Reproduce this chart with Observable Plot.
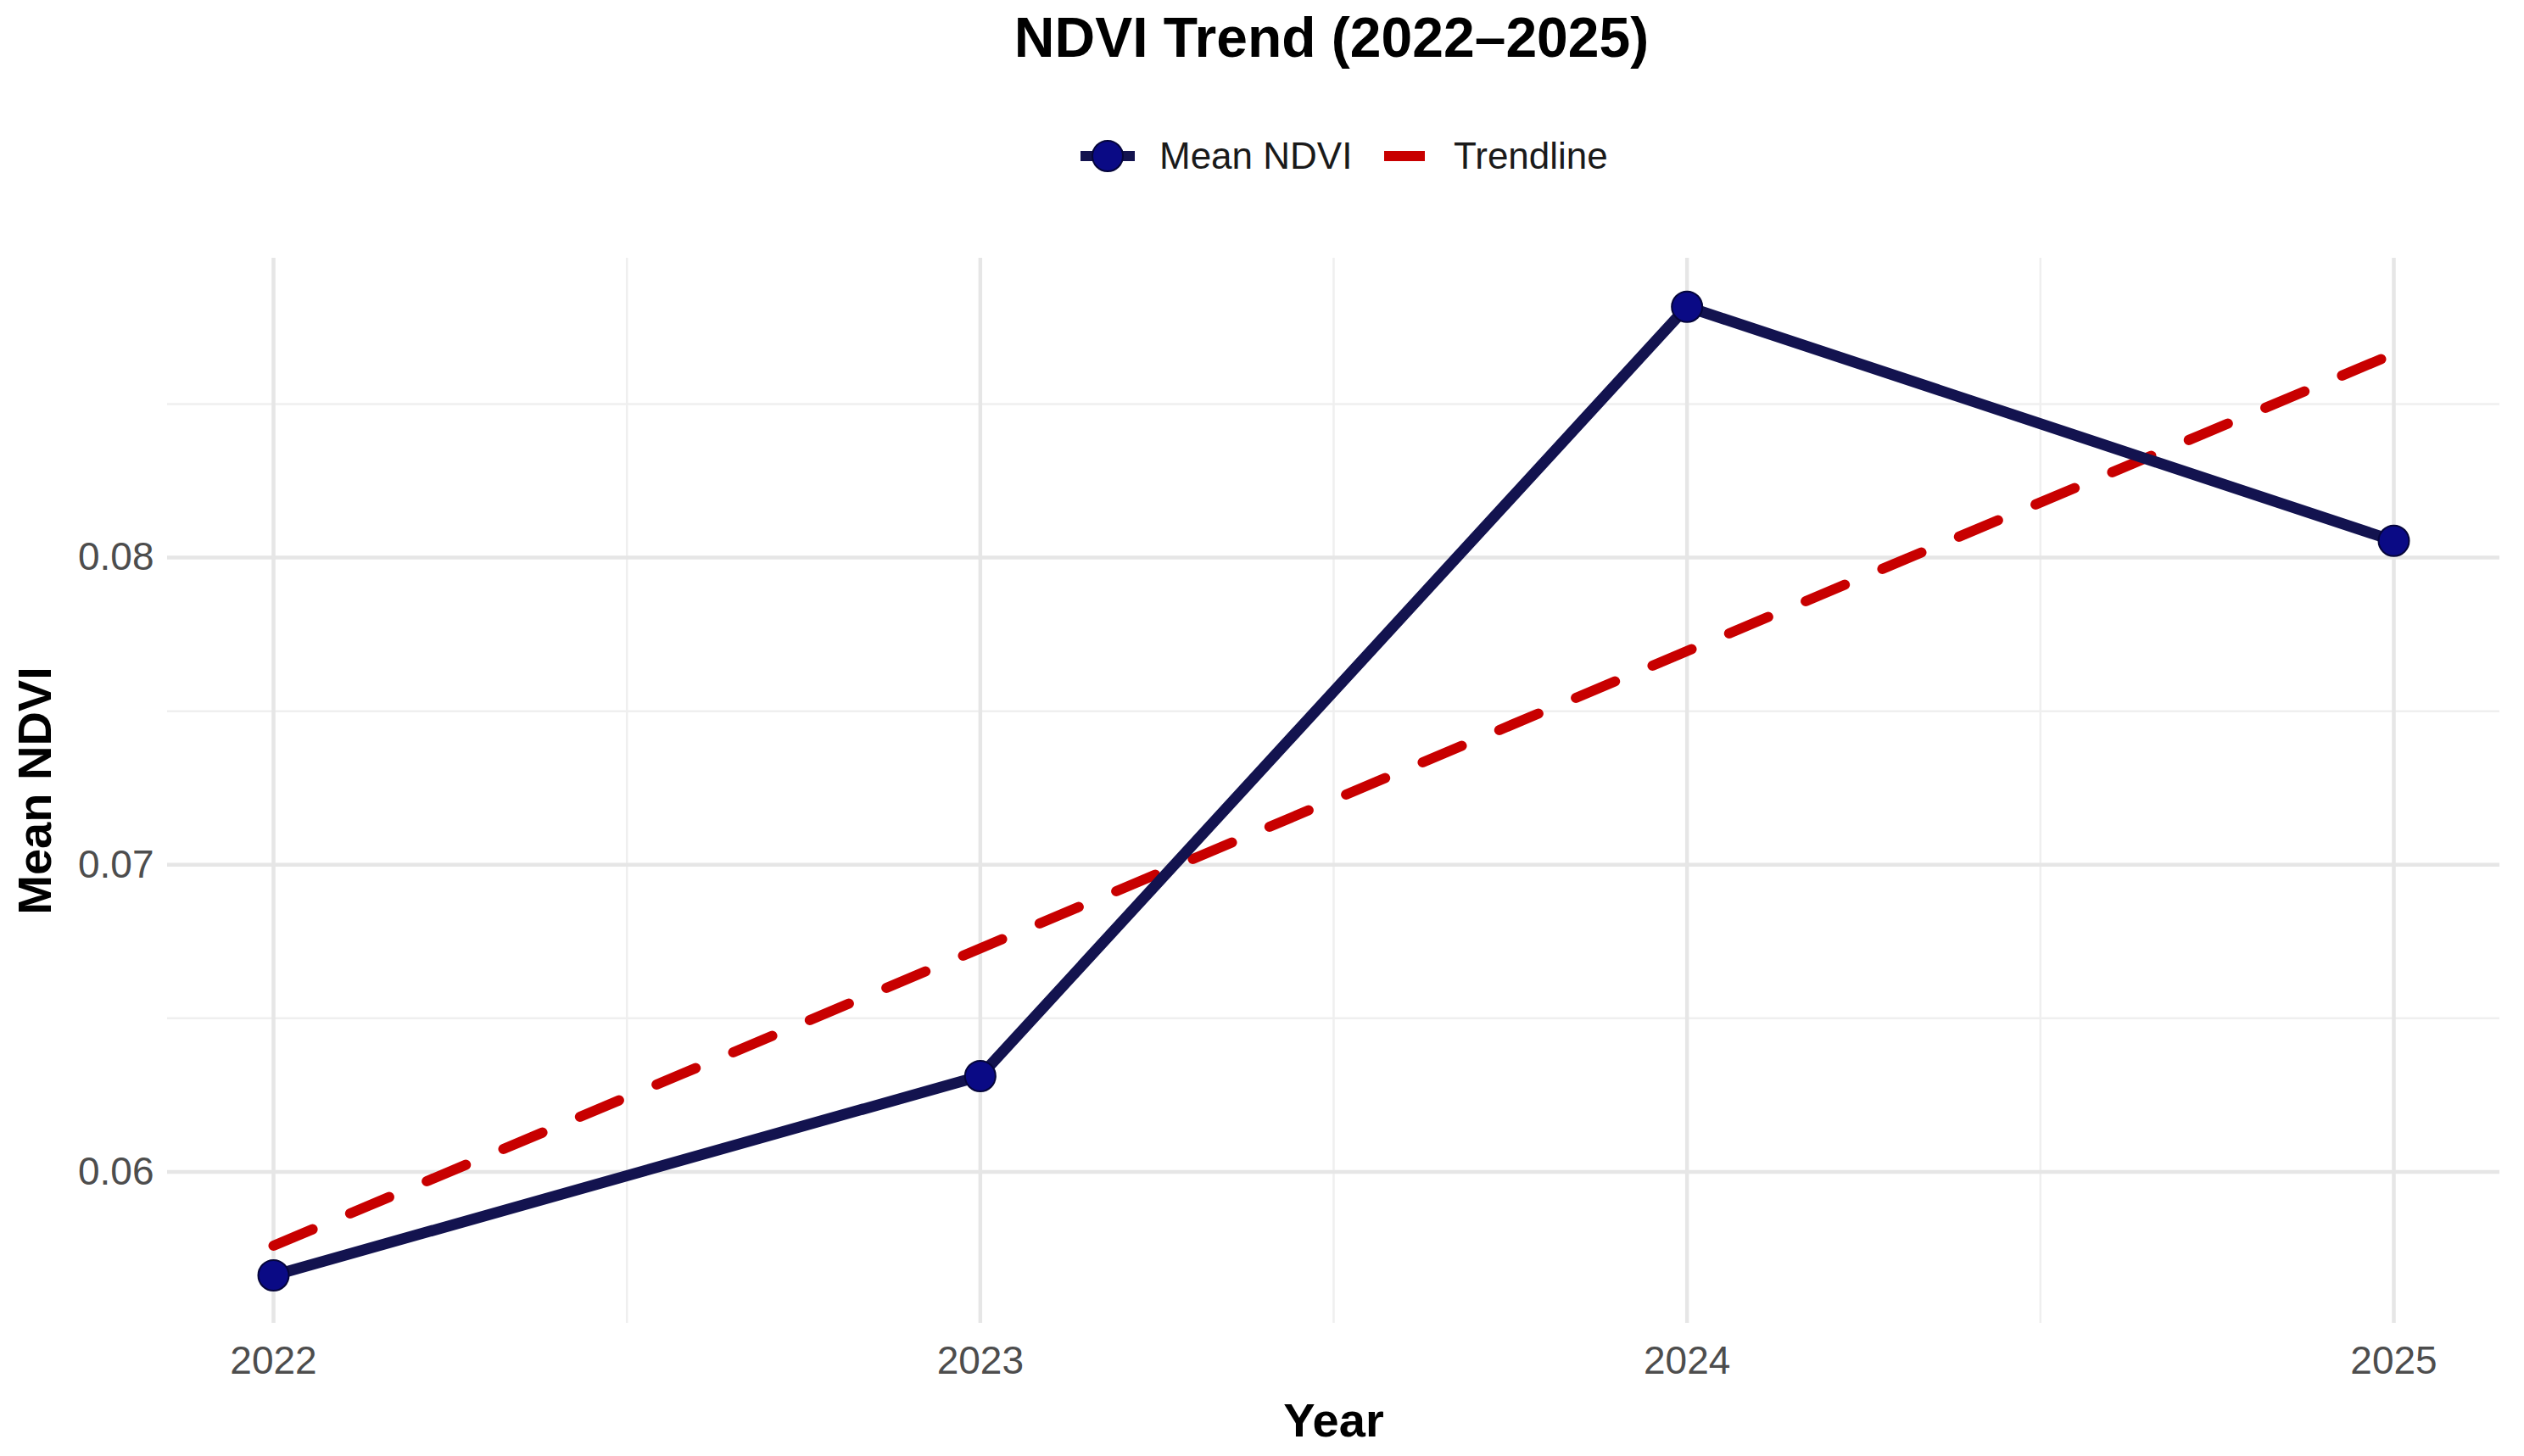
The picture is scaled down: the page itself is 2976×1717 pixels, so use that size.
<!DOCTYPE html>
<html><head><meta charset="utf-8">
<script src="https://cdn.jsdelivr.net/npm/d3@7"></script>
<script src="https://cdn.jsdelivr.net/npm/@observablehq/plot@0.6"></script>
<style>
body{margin:0;background:#fff;font-family:"Liberation Sans",Arial,sans-serif;}
#wrap{position:relative;width:2976px;height:1717px;overflow:hidden;background:#fff;}
#title{position:absolute;left:1570px;top:0;transform:translateX(-50%);font-size:66px;font-weight:bold;line-height:88px;white-space:nowrap;color:#000;}
.legtxt{position:absolute;top:154px;font-size:44px;line-height:60px;color:#1a1a1a;white-space:nowrap;}
.legkey{position:absolute;top:162px;}
#plot{position:absolute;left:0;top:240px;}
</style>
</head><body>
<div id="wrap">
  <div id="title">NDVI Trend (2022–2025)</div>
  <svg class="legkey" style="left:1274px" width="64" height="44"><line x1="0" y1="22" x2="64" y2="22" stroke="#13134f" stroke-width="12"/><circle cx="32" cy="22" r="18" fill="#0a0a85" stroke="#05053a" stroke-width="2"/></svg>
  <div class="legtxt" style="left:1367px">Mean NDVI</div>
  <svg class="legkey" style="left:1632px" width="48" height="44"><line x1="0" y1="22" x2="48" y2="22" stroke="#c80000" stroke-width="12"/></svg>
  <div class="legtxt" style="left:1714px">Trendline</div>
  <div id="plot"></div>
</div>
<script>
const years = [2022, 2023, 2024, 2025];
const meanNdvi = [0.05663, 0.06312, 0.08817, 0.08055];
const xTicks = [2022, 2023, 2024, 2025];
const xMinor = [2022.5, 2023.5, 2024.5];
const yTicks = [0.06, 0.07, 0.08];
const yMinor = [0.065, 0.075, 0.085];

const data = years.map((year, i) => ({year, ndvi: meanNdvi[i]}));

const chart = Plot.plot({
  width: 2976,
  height: 1477,
  marginTop: 64,
  marginBottom: 157,
  marginLeft: 197,
  marginRight: 29,
  style: {fontFamily: '"Liberation Sans", Arial, sans-serif', fontSize: "46px", color: "#4d4d4d", background: "white"},
  x: {domain: [2021.85, 2025.15]},
  y: {domain: [0.05507, 0.08975]},
  marks: [
    Plot.gridX(xMinor, {stroke: "#efefef", strokeOpacity: 1, strokeWidth: 2.5}),
    Plot.gridY(yMinor, {stroke: "#efefef", strokeOpacity: 1, strokeWidth: 2.5}),
    Plot.gridX(xTicks, {stroke: "#e6e6e6", strokeOpacity: 1, strokeWidth: 4.5}),
    Plot.gridY(yTicks, {stroke: "#e6e6e6", strokeOpacity: 1, strokeWidth: 4.5}),
    Plot.axisX(xTicks, {tickSize: 0, tickPadding: 27, tickFormat: d => String(d), label: null, fontSize: 46}),
    Plot.axisY(yTicks, {tickSize: 0, tickPadding: 16, tickFormat: d => d.toFixed(2), label: null, fontSize: 46}),
    Plot.linearRegressionY(data, {x: "year", y: "ndvi", ci: 0, stroke: "#c80000", strokeWidth: 12, strokeDasharray: "50,48"}),
    Plot.line(data, {x: "year", y: "ndvi", stroke: "#13134f", strokeWidth: 13}),
    Plot.dot(data, {x: "year", y: "ndvi", r: 18, fill: "#0a0a85", stroke: "#05053a", strokeWidth: 2}),
    Plot.text(["Year"], {frameAnchor: "bottom", lineAnchor: "middle", textAnchor: "middle", dy: 116, fontSize: 56, fontWeight: "bold", fill: "#000"}),
    Plot.text(["Mean NDVI"], {frameAnchor: "left", lineAnchor: "middle", textAnchor: "middle", dx: -155, rotate: -90, fontSize: 56, fontWeight: "bold", fill: "#000"})
  ]
});
document.getElementById("plot").appendChild(chart);
</script>
</body></html>
